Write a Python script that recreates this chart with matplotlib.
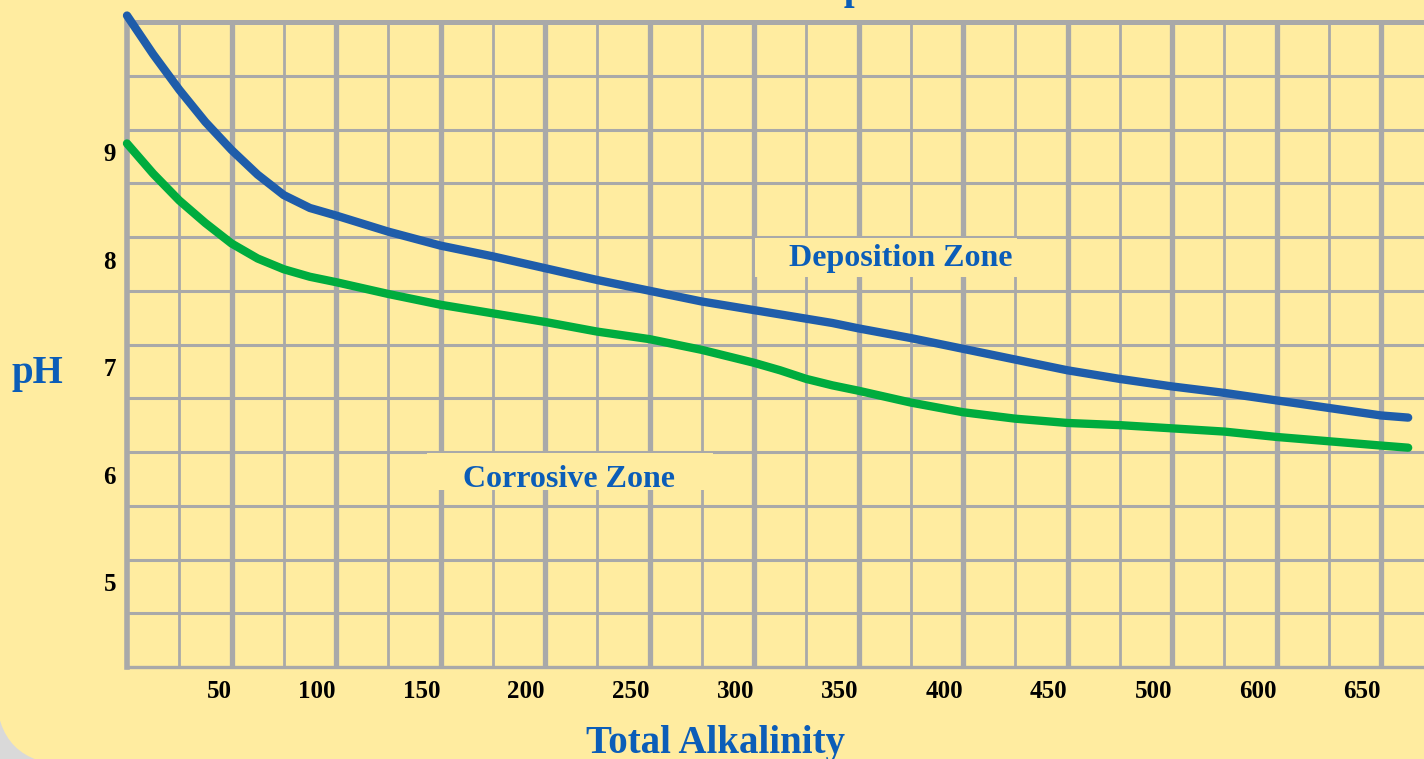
import matplotlib.pyplot as plt
import numpy as np
from matplotlib.patches import FancyBboxPatch, Rectangle
from matplotlib.transforms import IdentityTransform

# x is the position along the axis (one grid column = 25); the printed
# labels skip 550, so tick positions and tick labels are kept apart
alk_pos = [0, 12.5, 25, 37.5, 50, 62.5, 75, 87.5, 100, 125, 150, 175, 200,
           225, 250, 275, 287.5, 300, 312.5, 325, 337.5, 350, 375, 400, 425,
           450, 475, 500, 525, 550, 575, 600, 613]
ph_deposition = [10.27, 9.91, 9.58, 9.28, 9.02, 8.79, 8.60, 8.48, 8.41, 8.26,
                 8.13, 8.03, 7.92, 7.81, 7.71, 7.61, 7.57, 7.53, 7.49, 7.45,
                 7.41, 7.36, 7.27, 7.17, 7.07, 6.97, 6.89, 6.82, 6.76, 6.69,
                 6.62, 6.55, 6.53]
ph_corrosive = [9.08, 8.80, 8.55, 8.34, 8.15, 8.01, 7.91, 7.84, 7.79, 7.68,
                7.58, 7.50, 7.42, 7.33, 7.26, 7.16, 7.10, 7.04, 6.97, 6.89,
                6.83, 6.78, 6.67, 6.58, 6.52, 6.48, 6.46, 6.43, 6.40, 6.35,
                6.31, 6.27, 6.25]

x_tick_pos = [50, 100, 150, 200, 250, 300, 350, 400, 450, 500, 550, 600]
x_tick_labels = ['50', '100', '150', '200', '250', '300', '350', '400',
                 '450', '500', '600', '650']
y_tick_pos = [5, 6, 7, 8, 9]

BG = '#FFECA0'
GRID = '#A9A9A9'
TXT_BLUE = '#0B5DB8'
LINE_BLUE = '#1F5DAA'
LINE_GREEN = '#00AC3E'

plt.rcParams['font.family'] = ['Liberation Serif', 'DejaVu Serif']
plt.rcParams['font.weight'] = 'bold'

fig = plt.figure(figsize=(14.24, 7.59), dpi=100)
fig.patch.set_facecolor('#D9D9D9')
# rounded yellow panel, only the lower-left corner shows
panel = FancyBboxPatch((-4, -6), 1700, 1000,
                       boxstyle='round,pad=0,rounding_size=75',
                       transform=IdentityTransform(), facecolor=BG,
                       edgecolor='none', zorder=-10)
fig.patches.append(panel)

W, H = 1424, 759
x_lim = (0, 630)
px_per_unit = 104.5 / 50
ax_w = (x_lim[1] - x_lim[0]) * px_per_unit
ax = fig.add_axes([127 / W, 92 / H, ax_w / W, 645 / H])
ax.set_facecolor(BG)
ax.set_xlim(*x_lim)
ax.set_ylim(4.21, 10.21)

ax.set_xticks(x_tick_pos)
ax.set_xticklabels(x_tick_labels)
ax.set_xticks(np.arange(25, 630, 50), minor=True)
ax.set_yticks(y_tick_pos)
ax.set_yticks(np.arange(4.71, 10.2, 0.5), minor=True)
for lab in ax.get_xticklabels():
    lab.set_horizontalalignment('right')
ax.tick_params(axis='both', which='both', length=0, labelsize=18,
               labelcolor='black')
ax.tick_params(axis='x', pad=9)
ax.tick_params(axis='y', pad=8)

ax.grid(True, axis='x', which='major', color=GRID, linewidth=3.8)
ax.grid(True, axis='x', which='minor', color=GRID, linewidth=2.0)
ax.grid(True, axis='y', which='minor', color=GRID, linewidth=2.2)
ax.grid(False, axis='y', which='major')
ax.set_axisbelow(True)

for side, lw in [('left', 4.0), ('top', 3.6), ('bottom', 2.4), ('right', 2.0)]:
    ax.spines[side].set_color(GRID)
    ax.spines[side].set_linewidth(lw)

ax.plot(alk_pos, ph_deposition, color=LINE_BLUE, linewidth=6,
        solid_capstyle='round', solid_joinstyle='round', clip_on=False,
        zorder=5)
ax.plot(alk_pos, ph_corrosive, color=LINE_GREEN, linewidth=6,
        solid_capstyle='round', solid_joinstyle='round', clip_on=False,
        zorder=5)

# plain yellow patches behind the zone labels hide the grid there
ax.add_patch(Rectangle((300.5, 7.837), 125.3, 0.363, facecolor=BG,
                       edgecolor='none', zorder=3))
ax.add_patch(Rectangle((143.5, 5.856), 136.9, 0.344, facecolor=BG,
                       edgecolor='none', zorder=3))
ax.text(316.7, 7.94, 'Deposition Zone', color=TXT_BLUE, fontsize=23,
        ha='left', va='baseline', zorder=4)
ax.text(160.8, 5.884, 'Corrosive Zone', color=TXT_BLUE, fontsize=23,
        ha='left', va='baseline', zorder=4)

fig.text(715 / W, 6 / H, 'Total Alkalinity', color=TXT_BLUE, fontsize=28,
         ha='center', va='baseline')
fig.text(37 / W, (H - 383) / H, 'pH', color=TXT_BLUE, fontsize=28,
         ha='center', va='baseline')
# title cut off by the top edge of the picture
fig.text(866 / W, (H + 1) / H, 'Corrosion Map', color=TXT_BLUE, fontsize=28,
         ha='right', va='baseline')

fig.savefig('out.png', dpi=100, facecolor=fig.get_facecolor())
